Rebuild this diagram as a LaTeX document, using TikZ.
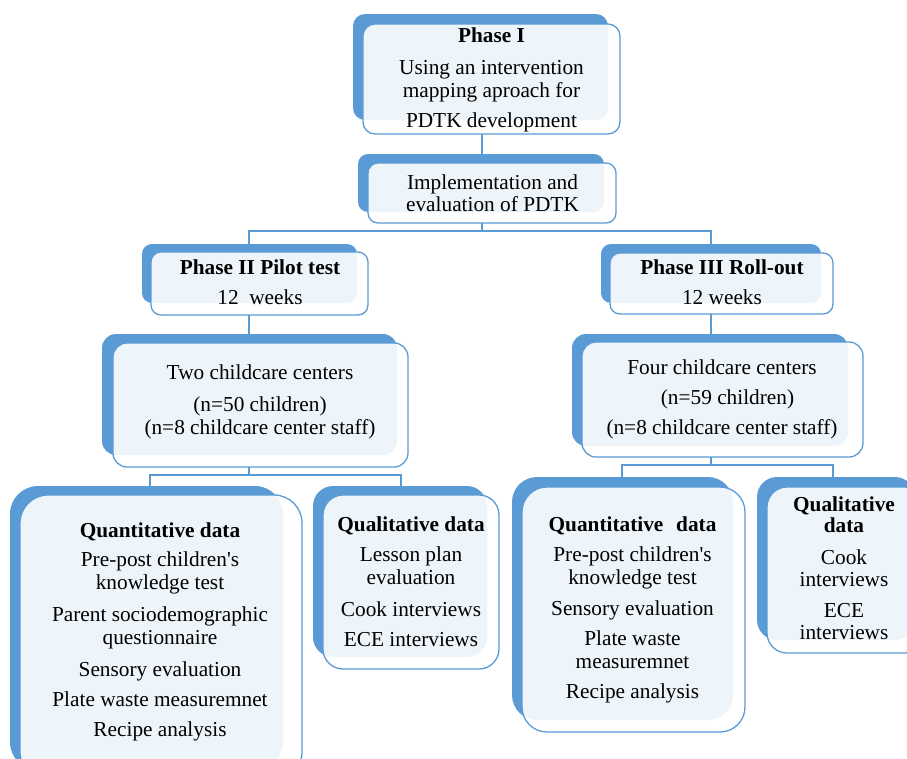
\documentclass[tikz,border=0pt]{standalone}
\usepackage{fontspec}
\setmainfont{Liberation Serif}
\definecolor{smblue}{HTML}{5B9BD5}
\tikzset{
  backbox/.style={fill=smblue, draw=none, inner sep=0pt, outer sep=0pt},
  frontbox/.style={fill=white, fill opacity=0.9, draw=smblue, draw opacity=1, line width=1.3pt, inner sep=0pt, outer sep=0pt},
  conn/.style={draw=smblue, line width=1.4pt},
  txt/.style={font=\fontsize{21.3}{23.3}\selectfont, align=center, inner sep=0pt, anchor=north, text=black},
}
\newcommand\mkbox[7]{%
  \node[#1, rounded corners=#7, minimum width={(#5-#3)*1pt}, minimum height={(#6-#4)*1pt}] (#2) at ({(#3+#5)/2},{(#4+#6)/2}) {};}
\newcommand\fl{\rule{0pt}{16pt}}
\begin{document}
\begin{tikzpicture}[x=1pt,y=-1pt]
\useasboundingbox (0,0) rectangle (907,758);
\clip (0,0) rectangle (907,758);
% connector coordinates
\coordinate (cA) at (482,231);
\coordinate (x2) at (249,231);
\coordinate (x3) at (711,231);
\coordinate (cB) at (249,475);
\coordinate (bl) at (150,475);
\coordinate (br) at (401,475);
\coordinate (cC) at (711,465);
\coordinate (rl) at (622,465);
\coordinate (rr) at (833,465);
% back boxes
\mkbox{backbox}{p1b}{353}{14}{608}{120}{12pt}
\mkbox{backbox}{implb}{358}{154}{604}{212}{10pt}
\mkbox{backbox}{p2b}{142}{244}{357}{303}{10pt}
\mkbox{backbox}{p3b}{601}{244}{821}{303}{10pt}
\mkbox{backbox}{twob}{102}{334}{397}{455}{14pt}
\mkbox{backbox}{fourb}{572}{334}{848}{446}{14pt}
\mkbox{backbox}{qLb}{10}{486}{283}{770}{28pt}
\mkbox{backbox}{qlb}{313}{486}{487}{657}{20pt}
\mkbox{backbox}{qRb}{512}{477}{733}{720}{25pt}
\mkbox{backbox}{qrb}{757}{477}{915}{640}{20pt}
% front boxes
\mkbox{frontbox}{p1}{363}{24}{620}{134}{12pt}
\mkbox{frontbox}{impl}{368}{163}{616}{223}{10pt}
\mkbox{frontbox}{p2}{151}{252}{368}{315}{10pt}
\mkbox{frontbox}{p3}{610}{253}{833}{314}{10pt}
\mkbox{frontbox}{two}{113}{343}{408}{467}{14pt}
\mkbox{frontbox}{four}{582}{342}{863}{457}{14pt}
\mkbox{frontbox}{qL}{20}{495}{302}{780}{28pt}
\mkbox{frontbox}{ql}{323}{495}{499}{669}{20pt}
\mkbox{frontbox}{qR}{522}{487}{745}{732}{25pt}
\mkbox{frontbox}{qr}{767}{487}{925}{653}{20pt}
% connectors
\draw[conn] (p1.south -| cA) -- (impl.north -| cA);
\draw[conn] (impl.south -| cA) -- (cA);
\draw[conn] (p2b.north -| x2) -- (x2) -- (x3) -- (p3b.north -| x3);
\draw[conn] (p2.south -| x2) -- (two.north -| x2);
\draw[conn] (p3.south -| x3) -- (four.north -| x3);
\draw[conn] (two.south -| cB) -- (cB);
\draw[conn] (qLb.north -| bl) -- (bl) -- (br) -- (qlb.north -| br);
\draw[conn] (four.south -| cC) -- (cC);
\draw[conn] (qRb.north -| rl) -- (rl) -- (rr) -- (qrb.north -| rr);
% texts
\node[txt] (t1) at (491.5,26.7) {\fl\textbf{Phase I}\\[8.2pt]Using an intervention\\mapping aproach for\\[6.7pt]PDTK development};
\node[txt] (t2) at (492.5,173) {\fl Implementation and\\[-1.3pt]evaluation of PDTK};
\node[txt] (t3) at (260,258.3) {\fl\textbf{Phase II Pilot test}\\[6.7pt]12\ \ weeks};
\node[txt] (t4) at (722,258.3) {\fl\textbf{Phase III Roll-out}\\[6.7pt]12 weeks};
\node[txt] (t5) at (260,363.3) {\fl Two childcare centers\\[8.4pt](n=50 children)\\(n=8 childcare center staff)};
\node[txt] (t6) at (722,358.3) {\fl Four childcare centers\\[6.7pt]\hspace*{11pt}(n=59 children)\\[6.7pt](n=8 childcare center staff)};
\node[txt] (t7) at (160,521.7) {\fl\textbf{Quantitative data}\\[5pt]Pre-post children\textquotesingle s\\knowledge test\\[8.4pt]Parent sociodemographic\\questionnaire\\[8.4pt]Sensory evaluation\\[6.7pt]Plate waste measuremnet\\[6.7pt]Recipe analysis};
\node[txt] (t8) at (411,515) {\fl\textbf{Qualitative data}\\[6.7pt]Lesson plan\\evaluation\\[8.3pt]Cook interviews\\[6.7pt]ECE interviews};
\node[txt] (t9) at (632.5,515) {\fl\textbf{Quantitative\hspace{0.6em}data}\\[6.7pt]Pre-post children\textquotesingle s\\knowledge test\\[7.7pt]Sensory evaluation\\[6.7pt]Plate waste\\measuremnet\\[6.7pt]Recipe analysis};
\node[txt] (t10) at (844,495) {\fl\textbf{Qualitative}\\[-1.6pt]\textbf{data}\\[8.3pt]Cook\\[-1.6pt]interviews\\[8.3pt]ECE\\[-1.6pt]interviews};
\end{tikzpicture}
\end{document}
